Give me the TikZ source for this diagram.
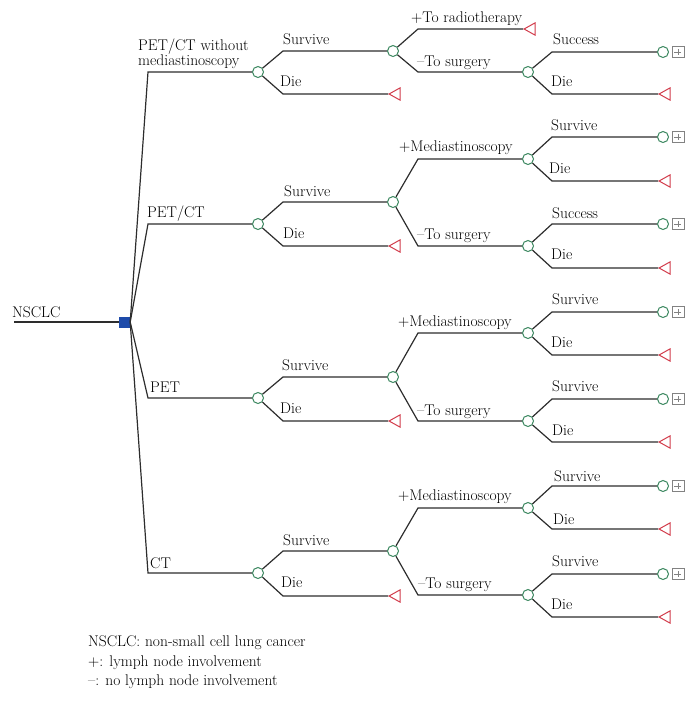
\documentclass[tikz,border=0pt]{standalone}
\usepackage{fontspec}
\usetikzlibrary{shapes.geometric,positioning}

\definecolor{linegray}{RGB}{45,45,45}
\definecolor{chancegreen}{RGB}{58,135,95}
\definecolor{termred}{RGB}{210,60,75}
\definecolor{decblue}{RGB}{30,75,170}
\definecolor{boxgray}{RGB}{130,130,130}

\begin{document}
\begin{tikzpicture}[x=1pt, y=-1pt,
    every node/.style={font=\fontsize{15.5}{15}\selectfont},
    branch/.style={draw=linegray, line width=1.2pt},
    chance/.style={circle, draw=chancegreen, fill=white, line width=1pt, minimum size=11pt, inner sep=0pt},
    term/.style={isosceles triangle, isosceles triangle apex angle=58, shape border rotate=180, draw=termred, fill=white, line width=1pt, inner sep=0pt, minimum height=11pt, anchor=apex},
    decision/.style={rectangle, fill=decblue, minimum size=11pt, inner sep=0pt},
    morebox/.style={rectangle, draw=boxgray, line width=0.8pt, minimum width=12pt, minimum height=11pt, inner sep=0pt,
      path picture={\draw[boxgray, line width=0.8pt]
        ([xshift=2.5pt]path picture bounding box.west) -- ([xshift=-2.5pt]path picture bounding box.east)
        ([yshift=-2.5pt]path picture bounding box.north) -- ([yshift=2.5pt]path picture bounding box.south);}},
    lbl/.style={anchor=base west, inner sep=0pt}]
  \useasboundingbox (0,0) rectangle (695,702);

  % columns of the corners
  \coordinate (k1) at (148,0);
  \coordinate (k2) at (283,0);
  \coordinate (k3) at (418,0);
  \coordinate (k4) at (552,0);

  % root
  \coordinate (start) at (14,322);
  \node[decision] (root) at (124.5,322) {};
  \draw[branch] (start) -- (root);
  \node[lbl] (nsclc) at (12,317) {NSCLC};

  % PET/CT without mediastinoscopy
  \node[chance] (A) at (258,72) {};
  \node[chance] (As) at (393,51) {};
  \node[term] (Ad) at (388,94) {};
  \node[term] (Ar) at (523,29) {};
  \node[chance] (At) at (528,72) {};
  \node[chance] (Ats) at (663,52) {};
  \node[morebox, right=2.5pt of Ats] (Atsb) {};
  \node[term] (Atd) at (658,94) {};

  \draw[branch] (root.east) -- (A -| k1) -- (A);
  \draw[branch] (A) -- (As -| k2) -- (As);
  \draw[branch] (A) -- (Ad.apex -| k2) -- (Ad.apex);
  \draw[branch] (As) -- (Ar.apex -| k3) -- (Ar.apex);
  \draw[branch] (As) -- (At -| k3) -- (At);
  \draw[branch] (At) -- (Ats -| k4) -- (Ats);
  \draw[branch] (At) -- (Atd.apex -| k4) -- (Atd.apex);

  \node[anchor=north west, inner sep=0pt, align=left] (lA) at (138,38.5) {PET/CT without\\mediastinoscopy};
  \node[lbl] (lAs) at (283,44) {Survive};
  \node[lbl] (lAd) at (280,86) {Die};
  \node[lbl] (lAr) at (411,22) {+To radiotherapy};
  \node[lbl] (lAt) at (417,66) {--To surgery};
  \node[lbl] (lAts) at (553,44) {Success};
  \node[lbl] (lAtd) at (551,86) {Die};

  % PET/CT
  \node[chance] (B) at (258,224) {};
  \node[chance] (Bs) at (393,202) {};
  \node[term] (Bd) at (388,246) {};
  \node[chance] (Bm) at (528,159) {};
  \node[chance] (Bt) at (528,246) {};
  \node[chance] (Bms) at (663,137) {};
  \node[morebox, right=2.5pt of Bms] (Bmsb) {};
  \node[term] (Bmd) at (658,181) {};
  \node[chance] (Bts) at (663,224) {};
  \node[morebox, right=2.5pt of Bts] (Btsb) {};
  \node[term] (Btd) at (658,268) {};

  \draw[branch] (root.east) -- (B -| k1) -- (B);
  \draw[branch] (B) -- (Bs -| k2) -- (Bs);
  \draw[branch] (B) -- (Bd.apex -| k2) -- (Bd.apex);
  \draw[branch] (Bs) -- (Bm -| k3) -- (Bm);
  \draw[branch] (Bs) -- (Bt -| k3) -- (Bt);
  \draw[branch] (Bm) -- (Bms -| k4) -- (Bms);
  \draw[branch] (Bm) -- (Bmd.apex -| k4) -- (Bmd.apex);
  \draw[branch] (Bt) -- (Bts -| k4) -- (Bts);
  \draw[branch] (Bt) -- (Btd.apex -| k4) -- (Btd.apex);

  \node[lbl] (lB) at (147,217) {PET/CT};
  \node[lbl] (lBs) at (284,196) {Survive};
  \node[lbl] (lBd) at (283,238) {Die};
  \node[lbl] (lBm) at (399,151) {+Mediastinoscopy};
  \node[lbl] (lBms) at (551,130) {Survive};
  \node[lbl] (lBmd) at (549,173) {Die};
  \node[lbl] (lBt) at (417,239) {--To surgery};
  \node[lbl] (lBts) at (552,218) {Success};
  \node[lbl] (lBtd) at (551,259) {Die};

  % PET
  \node[chance] (C) at (258,398) {};
  \node[chance] (Cs) at (393,377) {};
  \node[term] (Cd) at (388,421) {};
  \node[chance] (Cm) at (528,333) {};
  \node[chance] (Ct) at (528,421) {};
  \node[chance] (Cms) at (663,312) {};
  \node[morebox, right=2.5pt of Cms] (Cmsb) {};
  \node[term] (Cmd) at (658,355) {};
  \node[chance] (Cts) at (663,399) {};
  \node[morebox, right=2.5pt of Cts] (Ctsb) {};
  \node[term] (Ctd) at (658,442) {};

  \draw[branch] (root.east) -- (C -| k1) -- (C);
  \draw[branch] (C) -- (Cs -| k2) -- (Cs);
  \draw[branch] (C) -- (Cd.apex -| k2) -- (Cd.apex);
  \draw[branch] (Cs) -- (Cm -| k3) -- (Cm);
  \draw[branch] (Cs) -- (Ct -| k3) -- (Ct);
  \draw[branch] (Cm) -- (Cms -| k4) -- (Cms);
  \draw[branch] (Cm) -- (Cmd.apex -| k4) -- (Cmd.apex);
  \draw[branch] (Ct) -- (Cts -| k4) -- (Cts);
  \draw[branch] (Ct) -- (Ctd.apex -| k4) -- (Ctd.apex);

  \node[lbl] (lC) at (150,392) {PET};
  \node[lbl] (lCs) at (282,370) {Survive};
  \node[lbl] (lCd) at (280,413) {Die};
  \node[lbl] (lCm) at (398,326) {+Mediastinoscopy};
  \node[lbl] (lCms) at (552,304) {Survive};
  \node[lbl] (lCmd) at (551,347) {Die};
  \node[lbl] (lCt) at (417,415) {--To surgery};
  \node[lbl] (lCts) at (552,391) {Survive};
  \node[lbl] (lCtd) at (552,435) {Die};

  % CT
  \node[chance] (D) at (258,573) {};
  \node[chance] (Ds) at (393,551) {};
  \node[term] (Dd) at (388,596) {};
  \node[chance] (Dm) at (528,508) {};
  \node[chance] (Dt) at (528,595) {};
  \node[chance] (Dms) at (663,486) {};
  \node[morebox, right=2.5pt of Dms] (Dmsb) {};
  \node[term] (Dmd) at (658,529) {};
  \node[chance] (Dts) at (663,574) {};
  \node[morebox, right=2.5pt of Dts] (Dtsb) {};
  \node[term] (Dtd) at (658,617) {};

  \draw[branch] (root.east) -- (D -| k1) -- (D);
  \draw[branch] (D) -- (Ds -| k2) -- (Ds);
  \draw[branch] (D) -- (Dd.apex -| k2) -- (Dd.apex);
  \draw[branch] (Ds) -- (Dm -| k3) -- (Dm);
  \draw[branch] (Ds) -- (Dt -| k3) -- (Dt);
  \draw[branch] (Dm) -- (Dms -| k4) -- (Dms);
  \draw[branch] (Dm) -- (Dmd.apex -| k4) -- (Dmd.apex);
  \draw[branch] (Dt) -- (Dts -| k4) -- (Dts);
  \draw[branch] (Dt) -- (Dtd.apex -| k4) -- (Dtd.apex);

  \node[lbl] (lD) at (150,568) {CT};
  \node[lbl] (lDs) at (283,545) {Survive};
  \node[lbl] (lDd) at (281,587) {Die};
  \node[lbl] (lDm) at (398,500) {+Mediastinoscopy};
  \node[lbl] (lDms) at (554,481) {Survive};
  \node[lbl] (lDmd) at (553,524) {Die};
  \node[lbl] (lDt) at (418,588) {--To surgery};
  \node[lbl] (lDts) at (552,566) {Survive};
  \node[lbl] (lDtd) at (551,609) {Die};

  % legend
  \node[lbl] (leg1) at (88,646) {NSCLC: non-small cell lung cancer};
  \node[lbl] (leg2) at (88,666) {+: lymph node involvement};
  \node[lbl] (leg3) at (88,685) {--: no lymph node involvement};
\end{tikzpicture}
\end{document}
